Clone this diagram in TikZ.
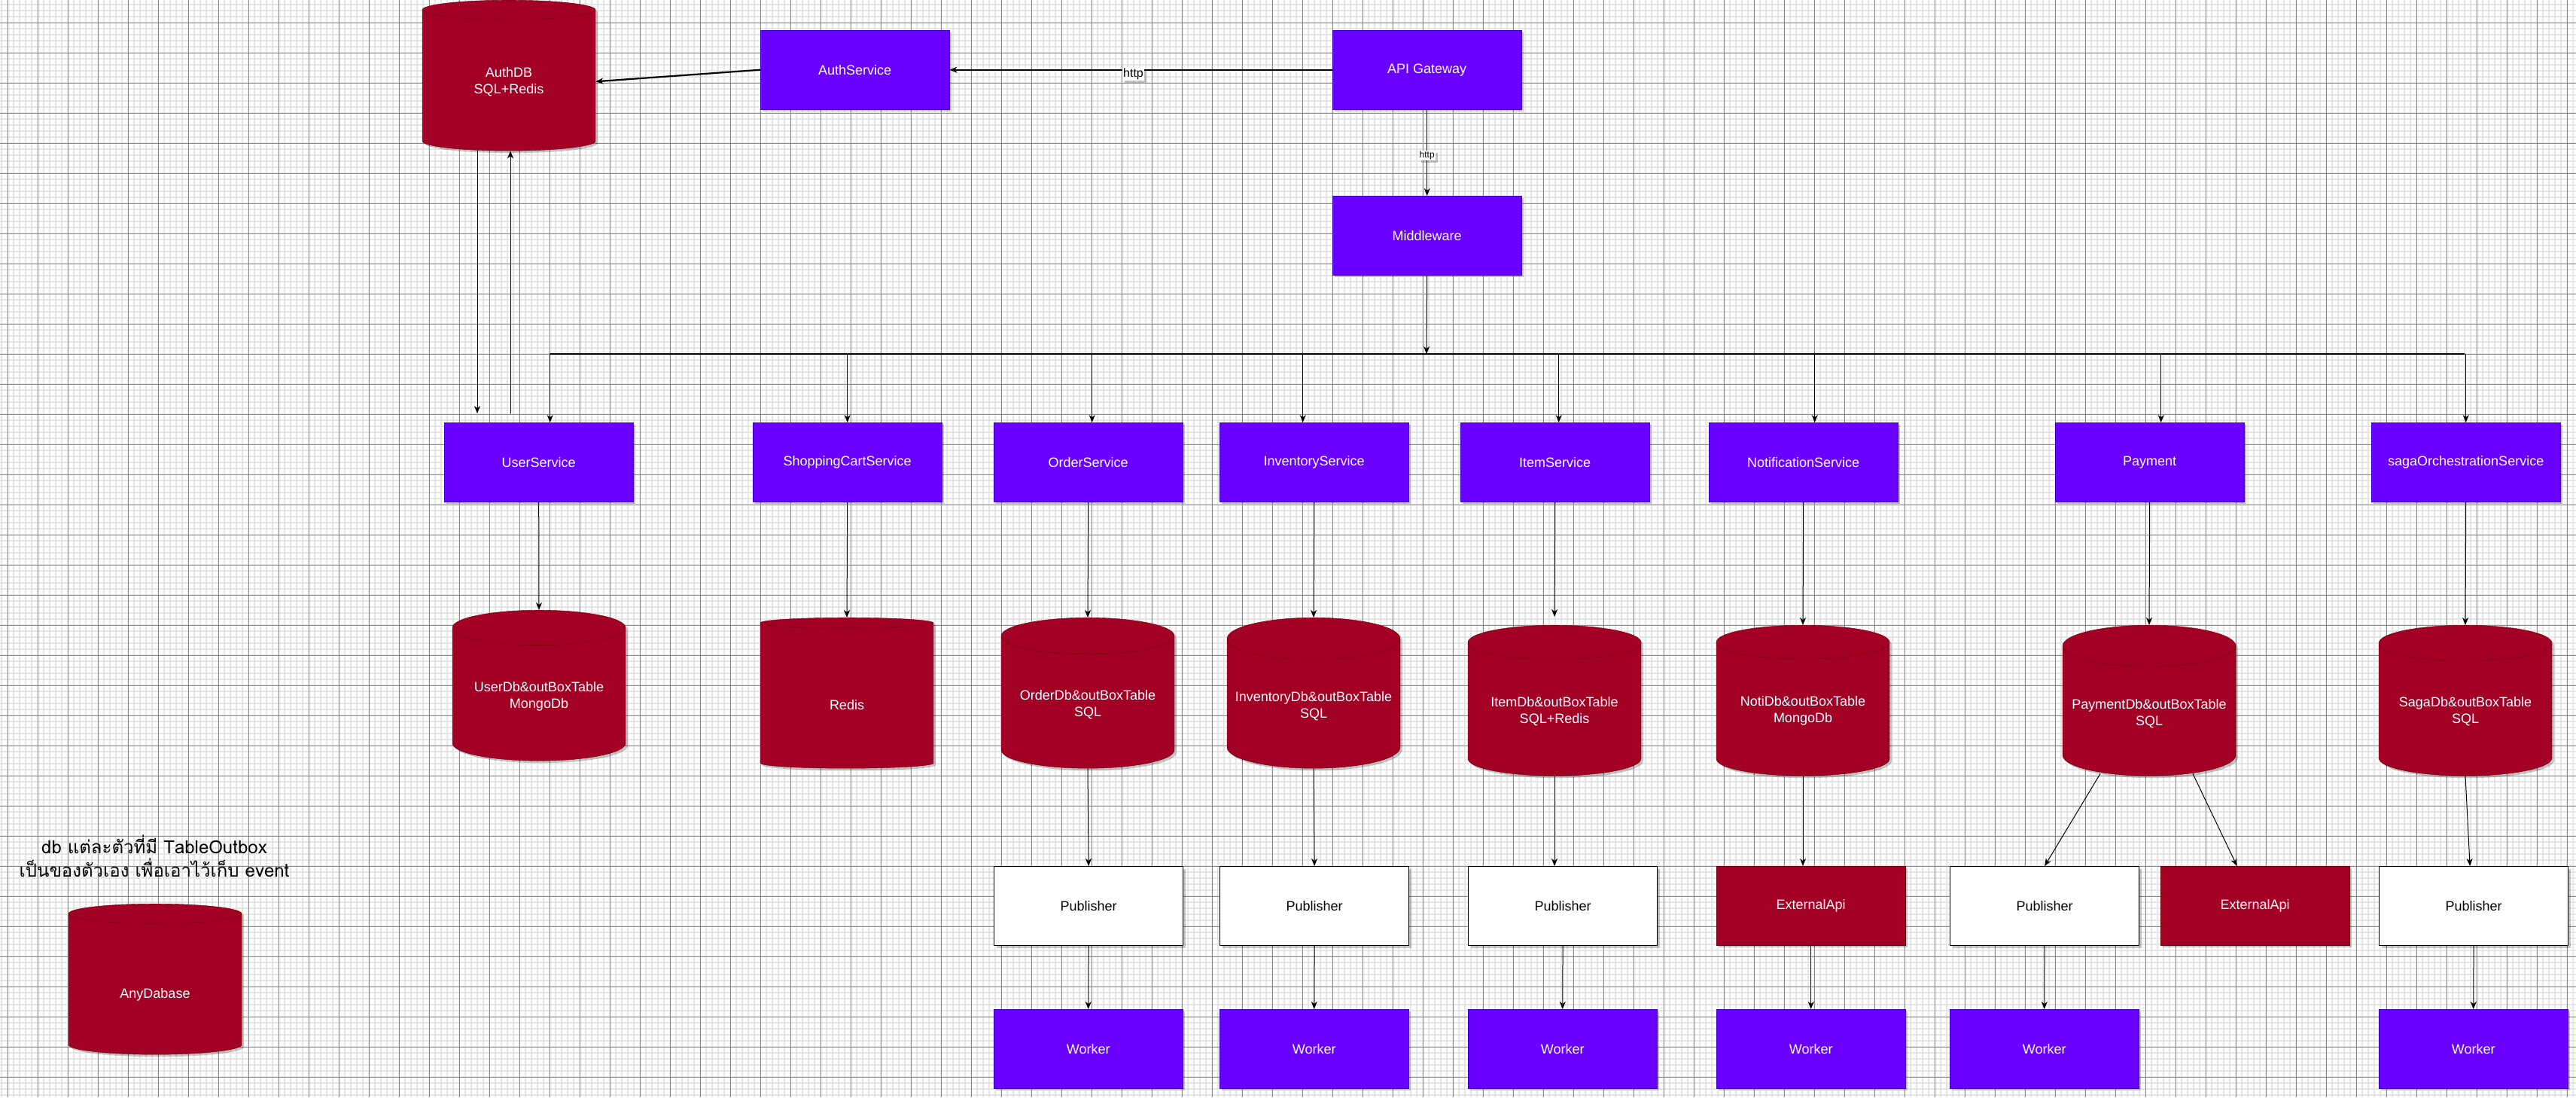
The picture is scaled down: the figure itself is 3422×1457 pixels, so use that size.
\documentclass[tikz,border=0pt]{standalone}
\usepackage{fontspec}
\setmainfont{Liberation Sans}
\newfontfamily\thaifont[Script=Thai]{Loma}
\definecolor{ServiceViolet}{HTML}{6A00FF}
\definecolor{ServiceEdge}{HTML}{3700CC}
\definecolor{StoreCrimson}{HTML}{A20025}
\definecolor{StoreEdge}{HTML}{6F0000}
\definecolor{GridMinor}{HTML}{E6E6E6}
\definecolor{GridMajor}{HTML}{8C8C8C}
\usepackage{tikz}
\usetikzlibrary{arrows.meta, shapes.geometric, shadows}

\begin{document}
\begin{tikzpicture}[x=1pt, y=-1pt,
  every node/.style={font=\fontsize{18}{22}\selectfont},
  boxshadow/.style={drop shadow={shadow xshift=3pt, shadow yshift=-3pt, opacity=0.22, fill=black}},
  svcbox/.style={draw=ServiceEdge, fill=ServiceViolet, text=white, minimum width=251pt, minimum height=105pt, anchor=north west, boxshadow},
  pubbox/.style={draw=black, line width=1.2pt, fill=white, text=black, minimum width=251pt, minimum height=105pt, anchor=north west, boxshadow},
  apibox/.style={draw=StoreEdge, fill=StoreCrimson, text=white, minimum width=251pt, minimum height=105pt, anchor=north west, boxshadow},
  dbstore/.style={cylinder, shape border rotate=90, aspect=0.26, minimum width=230pt, minimum height=200pt, draw=StoreEdge, fill=StoreCrimson, text=white, align=center, anchor=north, boxshadow},
  dbsingle/.style={dbstore, text height=35pt, text depth=0pt},
  arr/.style={-{Stealth[length=10pt, width=8pt, inset=3pt]}, line width=1pt},
  thickarr/.style={arr, line width=2.2pt},
  httptag/.style={fill=white, inner sep=1pt, text=black, boxshadow},
  gridminor/.style={GridMinor, line width=1.5pt},
  gridmajor/.style={GridMajor, line width=0.8pt}]

  \useasboundingbox (0,0) rectangle (3422,1457);
  \fill[white] (0,0) rectangle (3422,1457);
  \foreach \gx in {2,10,...,3422} \draw[gridminor] (\gx,0) -- (\gx,1457);
  \foreach \gy in {6,14,...,1457} \draw[gridminor] (0,\gy) -- (3422,\gy);
  \foreach \gx in {10,50,...,3422} \draw[gridmajor] (\gx,0) -- (\gx,1457);
  \foreach \gy in {30,70,...,1457} \draw[gridmajor] (0,\gy) -- (3422,\gy);

  \node[dbstore] (authdb) at (676,0) {AuthDB\\SQL+Redis};
  \node[svcbox] (auth) at (1010,40) {AuthService};
  \node[svcbox] (gateway) at (1770,40) {API Gateway};
  \node[svcbox] (mw) at (1770,260) {Middleware};

  \node[svcbox] (user) at (590,561) {UserService};
  \node[svcbox] (cart) at (1000,561) {ShoppingCartService};
  \node[svcbox] (order) at (1320,561) {OrderService};
  \node[svcbox] (inventory) at (1620,561) {InventoryService};
  \node[svcbox] (item) at (1940,561) {ItemService};
  \node[svcbox] (noti) at (2270,561) {NotificationService};
  \node[svcbox] (payment) at (2730,561) {Payment};
  \node[svcbox] (saga) at (3150,561) {sagaOrchestrationService};

  \node[dbstore] (userdb) at (716,810) {UserDb\&outBoxTable\\MongoDb};
  \node[dbsingle] (redis) at (1125,820) {Redis};
  \node[dbstore] (orderdb) at (1445,820) {OrderDb\&outBoxTable\\SQL};
  \node[dbstore] (invdb) at (1745,820) {InventoryDb\&outBoxTable\\SQL};
  \node[dbstore] (itemdb) at (2065,830) {ItemDb\&outBoxTable\\SQL+Redis};
  \node[dbstore] (notidb) at (2395,830) {NotiDb\&outBoxTable\\MongoDb};
  \node[dbstore] (paydb) at (2855,830) {PaymentDb\&outBoxTable\\SQL};
  \node[dbstore] (sagadb) at (3275,830) {SagaDb\&outBoxTable\\SQL};

  \node[pubbox] (orderpub) at (1320,1150) {Publisher};
  \node[pubbox] (invpub) at (1620,1150) {Publisher};
  \node[pubbox] (itempub) at (1950,1150) {Publisher};
  \node[apibox] (notiapi) at (2280,1150) {ExternalApi};
  \node[pubbox] (paypub) at (2590,1150) {Publisher};
  \node[apibox] (payapi) at (2870,1150) {ExternalApi};
  \node[pubbox] (sagapub) at (3160,1150) {Publisher};

  \node[svcbox] (orderworker) at (1320,1340) {Worker};
  \node[svcbox] (invworker) at (1620,1340) {Worker};
  \node[svcbox] (itemworker) at (1950,1340) {Worker};
  \node[svcbox] (notiworker) at (2280,1340) {Worker};
  \node[svcbox] (payworker) at (2590,1340) {Worker};
  \node[svcbox] (sagaworker) at (3160,1340) {Worker};

  \node[align=center, font=\thaifont\fontsize{24}{31}\selectfont] (note) at (205,1137) {db แต่ละตัวที่มี TableOutbox\\เป็นของตัวเอง เพื่อเอาไว้เก็บ event};
  \node[dbsingle] (anydb) at (206,1200) {AnyDabase};

  \coordinate (hub) at (1895,470);
  \coordinate (busL) at (730,470);
  \coordinate (busR) at (3274,470);
  \coordinate (userIn) at (634,549);
  \coordinate (userOut) at (678,549);

  \draw[thickarr] (gateway.west) -- node[httptag, pos=0.52, yshift=-6pt, font=\fontsize{16}{18}\selectfont] {http} (auth.east);
  \draw[thickarr] (auth.west) -- (authdb.east);
  \draw[arr] (gateway.south) -- node[httptag, pos=0.535, font=\fontsize{12}{14}\selectfont] {http} (mw.north);
  \draw[arr] (mw.south) -- (hub);
  \draw[line width=2pt] (busL) -- (busR);
  \foreach \n/\dx in {user/15, cart/0, order/5, inventory/-15, item/5, noti/15, payment/15, saga/0}
    \draw[arr] ([xshift=\dx pt]\n.north |- busL) -- ([xshift=\dx pt]\n.north);
  \draw[arr] (userIn |- authdb.south) -- (userIn);
  \draw[arr] (userOut) -- (userOut |- authdb.south);

  \draw[arr] (user.south) -- (userdb.north);
  \draw[arr] (cart.south) -- (redis.north);
  \draw[arr] (order.south) -- (orderdb.north);
  \draw[arr] (inventory.south) -- (invdb.north);
  \draw[arr, shorten >=11pt] (item.south) -- (itemdb.north);
  \draw[arr] (noti.south) -- (notidb.north);
  \draw[arr] (payment.south) -- (paydb.north);
  \draw[arr] (saga.south) -- (sagadb.north);

  \draw[arr] (orderdb.south) -- (orderpub.north);
  \draw[arr] (invdb.south) -- (invpub.north);
  \draw[arr] (itemdb.south) -- (itemdb.south |- itempub.north);
  \draw[arr] (notidb.south) -- (notidb.south |- notiapi.north);
  \draw[arr] ([xshift=-65pt, yshift=3pt]paydb.south) -- (paypub.north);
  \draw[arr] ([xshift=58pt, yshift=3pt]paydb.south) -- ([xshift=-24pt]payapi.north);
  \draw[arr] (sagadb.south) -- ([xshift=-5pt]sagapub.north);

  \draw[arr] (orderpub.south) -- (orderworker.north);
  \draw[arr] (invpub.south) -- (invworker.north);
  \draw[arr] (itempub.south) -- (itemworker.north);
  \draw[arr] (notiapi.south) -- (notiworker.north);
  \draw[arr] (paypub.south) -- (payworker.north);
  \draw[arr] (sagapub.south) -- (sagaworker.north);
\end{tikzpicture}
\end{document}
